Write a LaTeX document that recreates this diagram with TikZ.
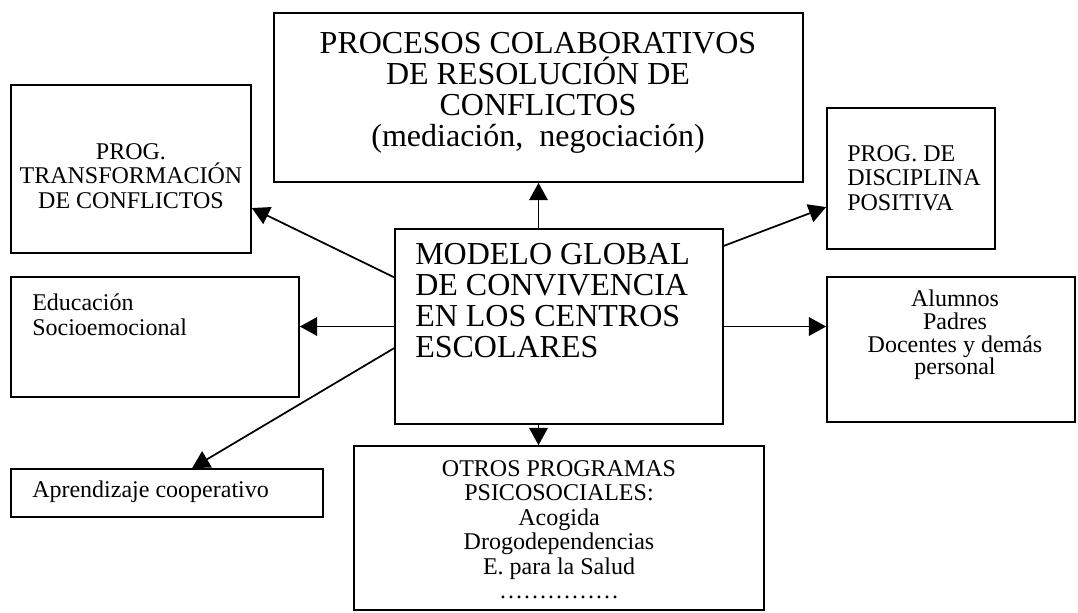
\documentclass[tikz,border=0pt]{standalone}
\usepackage{fontspec}
\setmainfont{Liberation Serif}
\usetikzlibrary{arrows.meta,fit,calc}

\tikzset{
  caja/.style={draw,line width=1.3pt,inner sep=0pt},
  flecha/.style={line width=1.3pt,-{Triangle[length=13pt,width=14pt]}},
  chico/.style={inner sep=0pt,align=center,font=\fontsize{18}{18.4}\selectfont},
  grande/.style={inner sep=0pt,align=center,font=\fontsize{24}{23.3}\selectfont},
}

\begin{document}
\begin{tikzpicture}[x=0.75pt,y=-0.75pt]
        \useasboundingbox (0,0) rectangle (1078,612);

        % cajas
        \node[caja,fit={(274,13) (803,182)}] (procesos) {};
        \node[caja,fit={(11,85) (251,253)}] (trans) {};
        \node[caja,fit={(827,108) (995,249)}] (disc) {};
        \node[caja,fit={(395,229) (723,424)}] (modelo) {};
        \node[caja,fit={(11,277) (299,397)}] (educ) {};
        \node[caja,fit={(827,277) (1075,422)}] (alumnos) {};
        \node[caja,fit={(11,469) (323,517)}] (aprend) {};
        \node[caja,fit={(354,446) (764,610)}] (otros) {};

        % textos
        \node[grande,anchor=north] (procesosT) at (538,32)
            {PROCESOS COLABORATIVOS\\DE RESOLUCIÓN DE\\CONFLICTOS\\(mediación,\ \ negociación)};
        \node[chico,anchor=north] (transT) at (131,143)
            {PROG.\\TRANSFORMACIÓN\\DE CONFLICTOS};
        \node[chico,align=left,anchor=north west] (discT) at (847,145)
            {PROG. DE\\DISCIPLINA\\POSITIVA};
        \node[grande,align=left,anchor=north west] (modeloT) at (415,243)
            {MODELO GLOBAL\\DE CONVIVENCIA\\EN LOS CENTROS\\ESCOLARES};
        \node[chico,align=left,anchor=north west] (educT) at (32,294)
            {Educación\\Socioemocional};
        \node[chico,anchor=north,font=\fontsize{18}{17}\selectfont] (alumnosT) at (955,290)
            {Alumnos\\Padres\\Docentes y demás\\personal};
        \node[chico,align=left,anchor=north west] (aprendT) at (32,481)
            {Aprendizaje cooperativo};
        \node[chico,anchor=north] (otrosT) at (559,460)
            {OTROS PROGRAMAS\\PSICOSOCIALES:\\Acogida\\Drogodependencias\\E. para la Salud\\……………};

        % flechas
        \draw[flecha] (modelo.north -| procesos.south) -- (procesos.south);
        \draw[flecha] (modelo.south -| procesos.south) -- (otros.north -| procesos.south);
        \draw[flecha] (modelo.west) -- (modelo.west -| educ.east);
        \draw[flecha] (modelo.east) -- (modelo.east -| alumnos.west);
        \draw[flecha] ($(modelo.north west)!0.25!(modelo.south west)$)
            -- ($(trans.north east)!0.73!(trans.south east)$);
        \draw[flecha] ($(modelo.north west)!0.61!(modelo.south west)$)
            -- ($(aprend.north west)!0.58!(aprend.north east)$);
        \draw[flecha] ($(modelo.north east)!0.09!(modelo.south east)$)
            -- ($(disc.north west)!0.70!(disc.south west)$);
    \end{tikzpicture}
\end{document}
